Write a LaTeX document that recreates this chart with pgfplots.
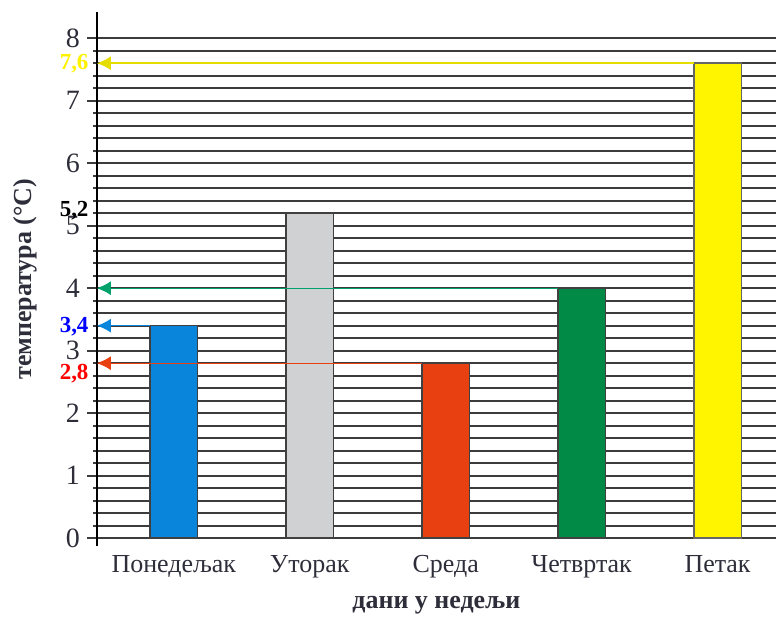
\documentclass[border=0pt]{standalone}
\usepackage{pgfplots}
\pgfplotsset{compat=1.18}
\usetikzlibrary{arrows.meta}
\usepackage{fontspec}
\setmainfont{Liberation Serif}
\definecolor{cblue}{HTML}{0A85DC}
\definecolor{cgray}{HTML}{D0D1D3}
\definecolor{cred}{HTML}{E84010}
\definecolor{cgreen}{HTML}{008A45}
\definecolor{cyellow}{HTML}{FFF500}
\definecolor{gridc}{HTML}{3C3C3C}
\definecolor{txt}{HTML}{2E2E3A}
\begin{document}
\begin{tikzpicture}
\begin{axis}[
  scale only axis, width=340pt, height=267.5pt,
  xmin=-0.566, xmax=4.43, ymin=-0.13, ymax=8.42,
  axis y line=left, axis x line=bottom,
  axis line style={-}, 
  y axis line style={black, line width=1pt},
  x axis line style={draw=none},
  xtick={0,1,2,3,4},
  xticklabels={Понедељак, Уторак, Среда, Четвртак, Петак},
  xtick style={draw=none},
  ytick={0,1,2,3,4,5,6,7,8},
  minor ytick={0.2,0.4,0.6,0.8,1.2,1.4,1.6,1.8,2.2,2.4,2.6,2.8,3.2,3.4,3.6,3.8,4.2,4.4,4.6,4.8,5.2,5.4,5.6,5.8,6.2,6.4,6.6,6.8,7.2,7.4,7.6,7.8},
  tick align=outside,
  major tick length=5pt, minor tick length=2pt,
  ytick style={gridc, line width=1pt},
  ymajorgrids, yminorgrids,
  major grid style={gridc, line width=1pt},
  minor grid style={gridc, line width=1pt},
  /pgf/number format/assume math mode=true,
  tick label style={font=\fontsize{13}{15}\selectfont, text=txt},
  yticklabel style={font=\fontsize{14}{16}\selectfont},
  xticklabel style={yshift=4pt},
  ylabel={\textbf{температура (°C)}},
  xlabel={\textbf{дани у недељи}},
  label style={font=\fontsize{13}{15}\selectfont, text=txt},
  ylabel style={at={(axis description cs:-0.106,0.5)}, anchor=center},
  xlabel style={at={(axis description cs:0.5,-0.11)}, anchor=center},
  clip=false,
]
\addplot[ybar, bar width=0.35, bar shift=0pt, fill=cblue, draw=black!75, line width=0.8pt] coordinates {(0,3.4)};
\addplot[ybar, bar width=0.35, bar shift=0pt, fill=cgray, draw=black!75, line width=0.8pt] coordinates {(1,5.2)};
\addplot[ybar, bar width=0.35, bar shift=0pt, fill=cred, draw=black!75, line width=0.8pt] coordinates {(2,2.8)};
\addplot[ybar, bar width=0.35, bar shift=0pt, fill=cgreen, draw=black!75, line width=0.8pt] coordinates {(3,4)};
\addplot[ybar, bar width=0.35, bar shift=0pt, fill=cyellow, draw=black!60, line width=0.8pt] coordinates {(4,7.6)};
% arrows
\addplot[cyellow!90!black, line width=0.8pt, -{Latex[length=7pt,width=7pt]}] coordinates {(3.825,7.6) (-0.566,7.6)};
\addplot[cgreen!80!cyan, line width=0.6pt, -{Latex[length=7pt,width=7pt]}] coordinates {(2.825,4) (-0.566,4)};
\addplot[cblue, line width=0.8pt, -{Latex[length=7pt,width=7pt]}] coordinates {(-0.175,3.4) (-0.566,3.4)};
\addplot[cred, line width=0.6pt, -{Latex[length=7pt,width=7pt]}] coordinates {(1.825,2.8) (-0.566,2.8)};
% value labels
\node[anchor=east, inner sep=0pt, xshift=-4pt, text=yellow, font=\bfseries\fontsize{11.5}{13}\selectfont] at (axis cs:-0.566,7.6) {7,6};
\node[anchor=east, inner sep=0pt, xshift=-4pt, text=black, font=\bfseries\fontsize{11.5}{13}\selectfont] at (axis cs:-0.566,5.24) {5,2};
\node[anchor=east, inner sep=0pt, xshift=-4pt, text=blue, font=\bfseries\fontsize{11.5}{13}\selectfont] at (axis cs:-0.566,3.38) {3,4};
\node[anchor=east, inner sep=0pt, xshift=-4pt, text=red, font=\bfseries\fontsize{11.5}{13}\selectfont] at (axis cs:-0.566,2.64) {2,8};
\end{axis}
\path ([yshift=6pt]current axis.north) ([xshift=-48.5pt,yshift=-36pt]current axis.south west);
\end{tikzpicture}
\end{document}
